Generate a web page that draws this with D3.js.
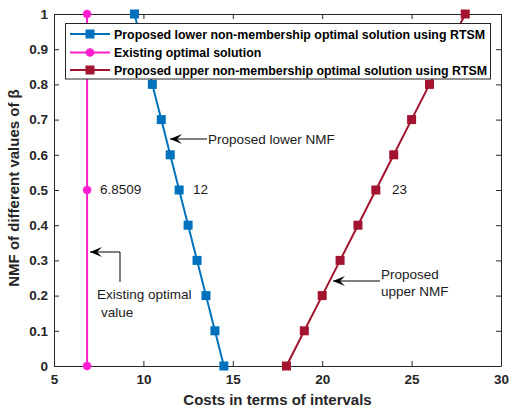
<!DOCTYPE html>
<html><head><meta charset="utf-8">
<script src="https://cdn.jsdelivr.net/npm/d3@7"></script>
<style>body{margin:0;background:#fff}svg{display:block}text{font-family:"Liberation Sans",Arial,sans-serif}</style>
</head><body>
<svg id="c" width="512" height="409"></svg>
<script>
const beta = [0,0.1,0.2,0.3,0.4,0.5,0.6,0.7,0.8,0.9,1];
const lowerCost = [14.5,14,13.5,13,12.5,12,11.5,11,10.5,10,9.5];
const upperCost = [18,19,20,21,22,23,24,25,26,27,28];
const existingBeta = [0,0.5,1];
const existingCost = [6.8509,6.8509,6.8509];
const xTicks = [5,10,15,20,25,30];
const yTicks = [0,0.1,0.2,0.3,0.4,0.5,0.6,0.7,0.8,0.9,1];
const legendLabels = ["Proposed lower non-membership optimal solution using RTSM","Existing optimal solution","Proposed upper non-membership optimal solution using RTSM"];
const colors = {lower:"#0072BD", existing:"#FF1DCE", upper:"#A2142F"};

const svg = d3.select("#c");
const L=54,R=501,T=14,B=366;
const x = d3.scaleLinear().domain([5,30]).range([L,R]);
const y = d3.scaleLinear().domain([0,1]).range([B,T]);

svg.append("g").attr("transform",`translate(0,${B})`)
  .call(d3.axisBottom(x).tickValues(xTicks).tickSizeInner(-5).tickSizeOuter(0).tickPadding(8));
svg.append("g").attr("transform",`translate(${L},0)`)
  .call(d3.axisLeft(y).tickValues(yTicks).tickFormat(d3.format("")).tickSizeInner(-5).tickSizeOuter(0).tickPadding(6));
svg.append("g").attr("transform",`translate(0,${T})`)
  .call(d3.axisTop(x).tickValues(xTicks).tickFormat("").tickSizeInner(-5).tickSizeOuter(0));
svg.append("g").attr("transform",`translate(${R},0)`)
  .call(d3.axisRight(y).tickValues(yTicks).tickFormat("").tickSizeInner(-5).tickSizeOuter(0));
svg.selectAll(".domain, .tick line").attr("stroke","#262626");
svg.selectAll(".tick text").attr("font-size",13.5).attr("font-weight","bold").attr("fill","#262626")
  .style("font-family","'Liberation Sans',Arial,sans-serif");

svg.append("text").attr("x",(L+R)/2 + 0).attr("y",405).attr("text-anchor","middle")
  .attr("font-size",15).attr("font-weight","bold").attr("fill","#262626").text("Costs in terms of intervals");
svg.append("text").attr("transform",`translate(19,${(T+B)/2 - 2}) rotate(-90)`).attr("text-anchor","middle")
  .attr("font-size",15).attr("font-weight","bold").attr("fill","#262626").text("NMF of different values of β");

const line = d3.line().x(d=>x(d[0])).y(d=>y(d[1]));
function series(xs, ys, color, marker){
  const pts = xs.map((v,i)=>[v,ys[i]]);
  svg.append("path").datum(pts).attr("d",line).attr("fill","none").attr("stroke",color).attr("stroke-width",2);
  const g = svg.append("g");
  pts.forEach(p=>drawMarker(g, x(p[0]), y(p[1]), color, marker));
}
function drawMarker(g,cx,cy,color,marker){
  if(marker==="square"){
    g.append("rect").attr("x",cx-4.5).attr("y",cy-4.5).attr("width",9).attr("height",9).attr("fill",color);
  } else {
    g.append("path").attr("d",d3.symbol(d3.symbolCross,40)()).attr("transform",`translate(${cx},${cy}) rotate(45)`).attr("fill",color);
    g.append("path").attr("d",d3.symbol(d3.symbolCross,40)()).attr("transform",`translate(${cx},${cy})`).attr("fill",color);
  }
}
series(lowerCost, beta, colors.lower, "square");
series(existingCost, existingBeta, colors.existing, "star");
series(upperCost, beta, colors.upper, "square");

function txt(tx,ty,s){svg.append("text").attr("x",tx).attr("y",ty).attr("font-size",13.5).attr("fill","#1a1a1a").text(s);}
txt(100,194,"6.8509");
txt(193,194,"12");
txt(392,194,"23");
function arrowHead(tx,ty){
  svg.append("path").attr("d",`M${tx},${ty} L${tx+12},${ty-5} L${tx+7},${ty} L${tx+12},${ty+5} Z`).attr("fill","#000");
}
svg.append("path").attr("d",`M170,139 L207,139`).attr("stroke","#000").attr("stroke-width",1).attr("fill","none");
arrowHead(170,139);
txt(208,144,"Proposed lower NMF");
svg.append("path").attr("d",`M90,252 L120,252 L120,282`).attr("stroke","#000").attr("stroke-width",1).attr("fill","none");
arrowHead(90,252);
txt(97,299,"Existing optimal");
txt(101,317,"value");
svg.append("path").attr("d",`M333,281 L380,281`).attr("stroke","#000").attr("stroke-width",1).attr("fill","none");
arrowHead(333,281);
txt(381,279,"Proposed");
txt(381,296,"upper NMF");

const lg = svg.append("g");
lg.append("rect").attr("x",65.5).attr("y",23.5).attr("width",425).attr("height",55.5).attr("fill","#fff").attr("stroke","#262626");
const legC=[colors.lower,colors.existing,colors.upper], legM=["square","star","square"], legY=[34,52.5,70];
legendLabels.forEach((s,i)=>{
  lg.append("line").attr("x1",70).attr("x2",110).attr("y1",legY[i]).attr("y2",legY[i]).attr("stroke",legC[i]).attr("stroke-width",2);
  drawMarker(lg,90,legY[i],legC[i],legM[i]);
  lg.append("text").attr("x",114).attr("y",legY[i]+4.5).attr("font-size",12.4).attr("font-weight","bold").attr("fill","#000").text(s);
});
</script>
</body></html>
